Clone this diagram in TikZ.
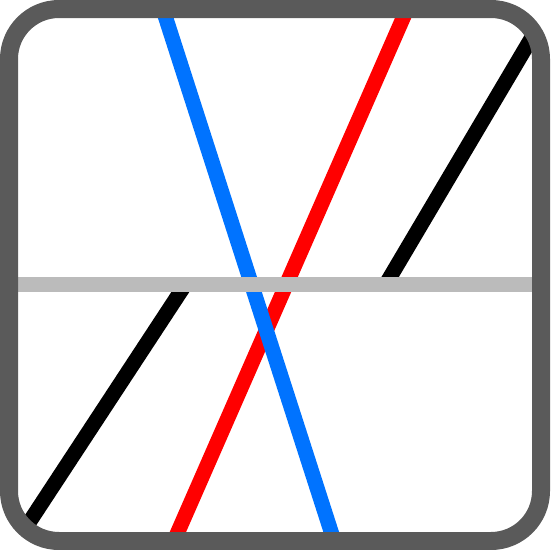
\documentclass[tikz,border=0pt]{standalone}
\begin{document}
\begin{tikzpicture}[x=1pt,y=-1pt,
  ray/.style={line width=15pt,line cap=butt},
  frameline/.style={draw=framegray,line width=18pt}]
\definecolor{framegray}{HTML}{5A5A5A}
\definecolor{bandgray}{HTML}{BBBBBB}
\definecolor{rayblue}{HTML}{0073FF}
\useasboundingbox (0,0) rectangle (550,550);
\fill[white] (0,0) rectangle (550,550);
\begin{scope}
  \clip[rounded corners=50pt] (9,9) rectangle (541,541);
  % black broken line
  \coordinate (bl1) at (11,550);
  \coordinate (bl2) at (185.6,284);
  \coordinate (bu1) at (386,284);
  \coordinate (bu2) at (554,0);
  \draw[ray,black] (bl1) -- (bl2);
  \draw[ray,black] (bu1) -- (bu2);
  % red line
  \coordinate (r1) at (170,550);
  \coordinate (r2) at (411,0);
  \draw[ray,red] (r1) -- (r2);
  % blue line
  \coordinate (b1) at (160,0);
  \coordinate (b2) at (337,550);
  \draw[ray,rayblue] (b1) -- (b2);
  % gray band
  \coordinate (g1) at (0,284);
  \coordinate (g2) at (550,284);
  \draw[line width=15pt,bandgray] (g1) -- (g2);
\end{scope}
\draw[frameline,rounded corners=50pt] (9,9) rectangle (541,541);
\end{tikzpicture}
\end{document}
